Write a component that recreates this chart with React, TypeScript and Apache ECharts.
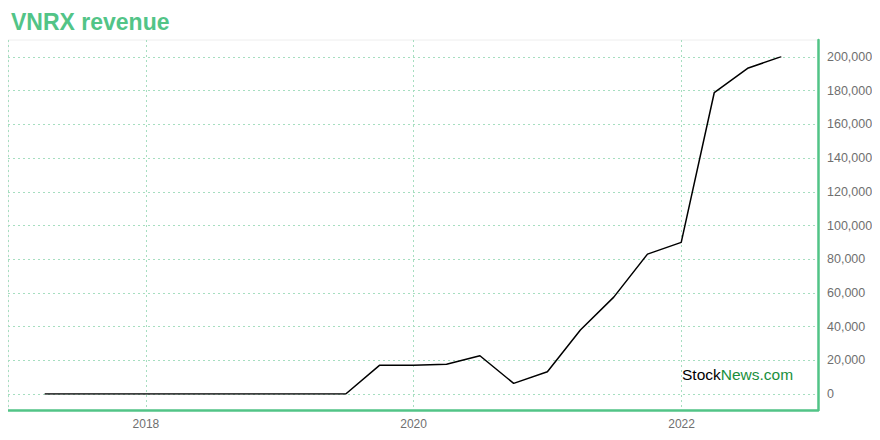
import React, { useEffect, useRef } from "react";
import * as echarts from "echarts";

const dates = [
  "2017-03-31", "2017-06-30", "2017-09-30", "2017-12-31",
  "2018-03-31", "2018-06-30", "2018-09-30", "2018-12-31",
  "2019-03-31", "2019-06-30", "2019-09-30", "2019-12-31",
  "2020-03-31", "2020-06-30", "2020-09-30", "2020-12-31",
  "2021-03-31", "2021-06-30", "2021-09-30", "2021-12-31",
  "2022-03-31", "2022-06-30", "2022-09-30",
];
const revenue = [
  0, 0, 0, 0,
  0, 0, 0, 0,
  0, 0, 17000, 17000,
  17600, 22700, 6300, 13200,
  38000, 57500, 83000, 90000,
  178800, 193300, 200200,
];
const xMin = "2016-12-21";
const xMax = "2023-01-08";
const yMin = 0;
const yMax = 200000;
const yStep = 20000;

const GREEN = "#52c487";
const GRID_LINE = "#a6dec0";

export default function App() {
  const ref = useRef<HTMLDivElement>(null);
  useEffect(() => {
    const chart = echarts.init(ref.current!, null, { renderer: "svg" });
    const seriesData = dates.map((d, i) => [d, revenue[i]]);
    chart.setOption({
      animation: false,
      backgroundColor: "#fff",
      title: {
        text: "VNRX revenue",
        left: 6,
        top: 5,
        textStyle: {
          color: GREEN,
          fontSize: 23,
          fontWeight: "bold",
          fontFamily: "Liberation Sans, Arial, sans-serif",
        },
      },
      grid: [
        { left: 8, right: 62, top: 40, bottom: 30, show: true, borderColor: "#eeeeee", borderWidth: 1 },
        { left: 8, right: 62, top: 57, bottom: 46 },
      ],
      xAxis: [
        {
          type: "time",
          gridIndex: 0,
          min: xMin,
          max: xMax,
          splitNumber: 3,
          axisLine: { show: true, lineStyle: { color: GREEN, width: 2.5 } },
          axisTick: { show: false },
          axisLabel: {
            color: "#6f6f6f",
            fontSize: 12,
            margin: 8,
            fontFamily: "Liberation Sans, Arial, sans-serif",
            formatter: "{yyyy}",
          },
          splitLine: { show: true, lineStyle: { color: GRID_LINE, type: [2, 3], width: 1 } },
        },
        {
          type: "time",
          gridIndex: 1,
          min: xMin,
          max: xMax,
          show: false,
          splitLine: { show: false },
        },
      ],
      yAxis: [
        {
          type: "value",
          gridIndex: 0,
          position: "right",
          min: 0,
          max: 1,
          axisLine: { show: true, lineStyle: { color: GREEN, width: 2.5 } },
          axisTick: { show: false },
          axisLabel: { show: false },
          splitLine: { show: false },
        },
        {
          type: "value",
          gridIndex: 1,
          position: "right",
          min: yMin,
          max: yMax,
          interval: yStep,
          axisLine: { show: false },
          axisTick: { show: false },
          axisLabel: {
            color: "#6f6f6f",
            fontSize: 12.5,
            margin: 9,
            fontFamily: "Liberation Sans, Arial, sans-serif",
            formatter: (v: number) => v.toLocaleString("en-US"),
          },
          splitLine: { show: true, lineStyle: { color: GRID_LINE, type: [2, 3], width: 1 } },
        },
      ],
      series: [
        {
          type: "line",
          xAxisIndex: 1,
          yAxisIndex: 1,
          data: seriesData,
          showSymbol: false,
          lineStyle: { color: "#000", width: 1.5 },
          itemStyle: { color: "#000" },
        },
      ],
      graphic: [
        {
          type: "text",
          left: 682,
          top: 366,
          style: {
            text: "{a|Stock}{b|News.com}",
            rich: {
              a: { fill: "#000", fontSize: 15.5, fontFamily: "Liberation Sans, Arial, sans-serif" },
              b: { fill: "#1a8f3c", fontSize: 15.5, fontFamily: "Liberation Sans, Arial, sans-serif" },
            },
          },
        },
      ],
    });
    return () => chart.dispose();
  }, []);
  return <div ref={ref} style={{ width: 880, height: 440, margin: -8 }} />;
}
